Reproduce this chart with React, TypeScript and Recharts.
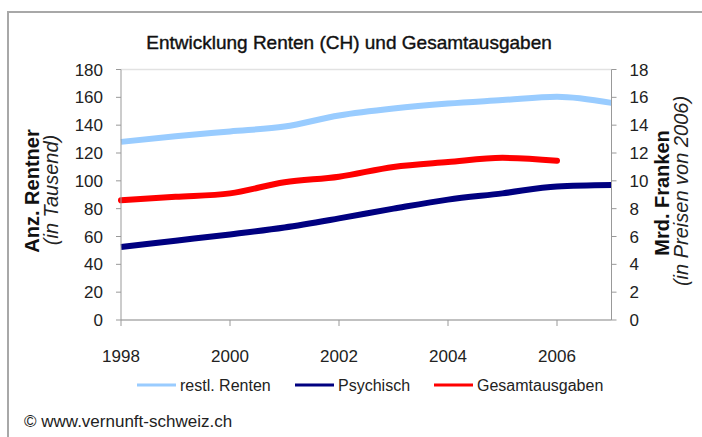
import React from 'react';
import { LineChart, Line, XAxis, YAxis, CartesianGrid, Legend } from 'recharts';

const years = [1998, 1999, 2000, 2001, 2002, 2003, 2004, 2005, 2006, 2007];
const restlRenten = [128, 132, 135.5, 139, 147, 152, 155.5, 158, 160.5, 156];
const psychisch = [52.5, 57, 61.5, 66.5, 73, 80, 86.5, 91, 96, 97];
const gesamtausgaben: (number | null)[] = [8.6, 8.85, 9.1, 9.9, 10.3, 11.0, 11.35, 11.65, 11.45, null];

const xTicks = [1998, 2000, 2002, 2004, 2006];
const leftTicks = [0, 20, 40, 60, 80, 100, 120, 140, 160, 180];
const rightTicks = [0, 2, 4, 6, 8, 10, 12, 14, 16, 18];

const seriesOrder = ['restl. Renten', 'Psychisch', 'Gesamtausgaben'];

const data = years.map((y, i) => ({
  year: y,
  restl: restlRenten[i],
  psych: psychisch[i],
  gesamt: gesamtausgaben[i] === null ? undefined : gesamtausgaben[i],
}));

const FONT = '"Liberation Sans", Arial, Helvetica, sans-serif';
const legendX = [137, 295, 434];

const LegendContent = (props: any) => {
  const payload = props.payload || [];
  const ordered = seriesOrder
    .map((n) => payload.find((p: any) => p.value === n))
    .filter(Boolean);
  return (
    <svg width={702} height={30} style={{ display: 'block' }}>
      {ordered.map((p: any, i: number) => (
        <g key={i}>
          <line x1={legendX[i]} x2={legendX[i] + 39} y1={15} y2={15} stroke={p.color} strokeWidth={3} />
          <text x={legendX[i] + 43} y={15} dominantBaseline="central" fontSize={16} fontFamily={FONT} fill="#222">
            {p.value}
          </text>
        </g>
      ))}
    </svg>
  );
};

export default function App() {
  const tickStyle = { fontSize: 17, fontFamily: FONT, fill: '#222' };
  return (
    <div style={{ position: 'absolute', left: 0, top: 0, width: 702, height: 437, background: '#fff', overflow: 'hidden' }}>
      <div
        style={{
          position: 'absolute',
          left: 7,
          top: 11,
          width: 720,
          height: 460,
          borderLeft: '2px solid #a8a8a8',
          borderTop: '2px solid #a8a8a8',
        }}
      />
      <LineChart
        width={702}
        height={437}
        data={data}
        margin={{ top: 69.5, right: 30.5, bottom: 57, left: 61 }}
        style={{ position: 'absolute', left: 0, top: 0 }}
      >
        <CartesianGrid vertical={false} stroke="#e2e2e2" strokeWidth={1.5} />
        <XAxis
          dataKey="year"
          type="number"
          domain={[1998, 2007]}
          ticks={xTicks}
          tickSize={6}
          tickMargin={24}
          height={30}
          stroke="#999"
          tick={tickStyle}
          interval={0}
        />
        <YAxis
          yAxisId="left"
          domain={[0, 180]}
          ticks={leftTicks}
          width={60}
          tickSize={5}
          tickMargin={13}
          stroke="#999"
          tick={tickStyle}
          interval={0}
        />
        <YAxis
          yAxisId="right"
          orientation="right"
          domain={[0, 18]}
          ticks={rightTicks}
          width={60}
          tickSize={5}
          tickMargin={13}
          stroke="#999"
          tick={{ ...tickStyle, textAnchor: 'start' }}
          interval={0}
        />
        <Line
          yAxisId="left"
          dataKey="restl"
          name={seriesOrder[0]}
          type="monotone"
          stroke="#99CCFF"
          strokeWidth={6}
          dot={false}
          isAnimationActive={false}
        />
        <Line
          yAxisId="left"
          dataKey="psych"
          name={seriesOrder[1]}
          type="monotone"
          stroke="#000080"
          strokeWidth={6}
          dot={false}
          isAnimationActive={false}
        />
        <Line
          yAxisId="right"
          dataKey="gesamt"
          name={seriesOrder[2]}
          type="monotone"
          stroke="#FF0000"
          strokeWidth={6}
          strokeLinecap="round"
          dot={false}
          isAnimationActive={false}
        />
        <Legend
          content={<LegendContent />}
          wrapperStyle={{ position: 'absolute', left: 0, top: 370, width: 702, height: 30 }}
        />
      </LineChart>
      <svg width={702} height={437} style={{ position: 'absolute', left: 0, top: 0, pointerEvents: 'none' }}>
        <text
          x={349}
          y={42}
          textAnchor="middle"
          dominantBaseline="central"
          fontSize={19}
          fontFamily={FONT}
          fill="#111"
          stroke="#111"
          strokeWidth={0.4}
        >
          Entwicklung Renten (CH) und Gesamtausgaben
        </text>
        <text
          transform="translate(32,191) rotate(-90)"
          textAnchor="middle"
          dominantBaseline="central"
          fontSize={20}
          fontWeight="bold"
          fontFamily={FONT}
          fill="#111"
        >
          Anz. Rentner
        </text>
        <text
          transform="translate(51,190) rotate(-90)"
          textAnchor="middle"
          dominantBaseline="central"
          fontSize={20}
          fontStyle="italic"
          fontFamily={FONT}
          fill="#222"
        >
          (in Tausend)
        </text>
        <text
          transform="translate(662,193) rotate(-90)"
          textAnchor="middle"
          dominantBaseline="central"
          fontSize={20}
          fontWeight="bold"
          fontFamily={FONT}
          fill="#111"
        >
          Mrd. Franken
        </text>
        <text
          transform="translate(681,191) rotate(-90)"
          textAnchor="middle"
          dominantBaseline="central"
          fontSize={20}
          fontStyle="italic"
          fontFamily={FONT}
          fill="#222"
        >
          (in Preisen von 2006)
        </text>
        <text x={24} y={421} dominantBaseline="central" fontSize={17} fontFamily={FONT} fill="#222">
          © www.vernunft-schweiz.ch
        </text>
      </svg>
    </div>
  );
}
